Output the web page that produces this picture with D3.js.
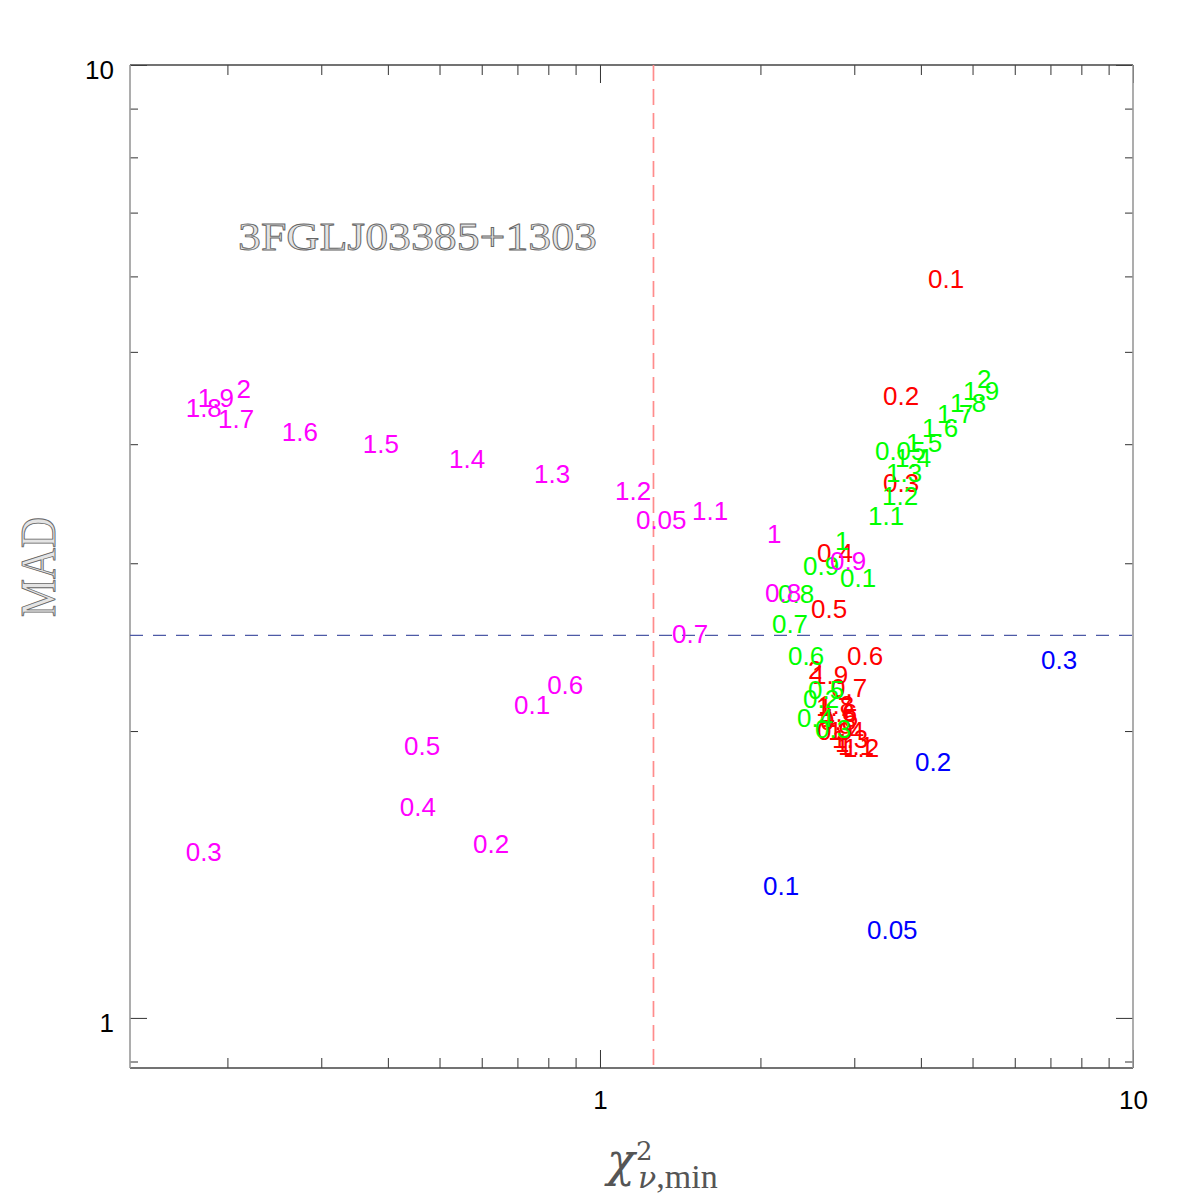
<!DOCTYPE html>
<html>
<head>
<meta charset="utf-8">
<script src="https://cdn.jsdelivr.net/npm/d3@7"></script>
<style>
  body { margin: 0; background: #fff; }
</style>
</head>
<body>
<div id="chart"></div>
<script>
// tick values
const xMajor = [1, 10];
const xMinor = [0.2, 0.3, 0.4, 0.5, 0.6, 0.7, 0.8, 0.9, 2, 3, 4, 5, 6, 7, 8, 9];
const yMajor = [1, 10];
const yMinor = [0.9, 2, 3, 4, 5, 6, 7, 8, 9];

// reference lines
const chiCut = 1.26;
const madCut = 2.52;

// magenta series
const labelsMagenta = ["0.05", "0.1", "0.2", "0.3", "0.4", "0.5", "0.6", "0.7", "0.8", "0.9", "1",
  "1.1", "1.2", "1.3", "1.4", "1.5", "1.6", "1.7", "1.8", "1.9", "2"];
const chiMagenta = [1.168, 0.690, 0.578, 0.167, 0.421, 0.429, 0.796, 1.365, 2.040, 2.701, 2.058,
  1.488, 1.067, 0.752, 0.521, 0.359, 0.253, 0.192, 0.167, 0.176, 0.208];
const madMagenta = [3.260, 2.084, 1.490, 1.461, 1.629, 1.888, 2.188, 2.475, 2.733, 2.952, 3.151,
  3.331, 3.496, 3.642, 3.777, 3.916, 4.031, 4.159, 4.271, 4.376, 4.473];

// green series
const labelsGreen = ["0.05", "0.1", "0.2", "0.3", "0.4", "0.5", "0.6", "0.7", "0.8", "0.9", "1",
  "1.1", "1.2", "1.3", "1.4", "1.5", "1.6", "1.7", "1.8", "1.9", "2"];
const chiGreen = [3.280, 2.820, 2.404, 2.532, 2.342, 2.456, 2.253, 2.102, 2.158, 2.404, 2.760,
  3.183, 3.381, 3.440, 3.577, 3.751, 4.019, 4.289, 4.536, 4.798, 5.096];
const madGreen = [3.850, 2.834, 2.115, 1.967, 2.020, 2.161, 2.346, 2.535, 2.726, 2.916, 3.098,
  3.291, 3.454, 3.651, 3.786, 3.925, 4.071, 4.212, 4.324, 4.451, 4.582];

// red series
const labelsRed = ["0.1", "0.2", "0.3", "0.4", "0.5", "0.6", "0.7", "0.8", "0.9", "1",
  "1.1", "1.2", "1.3", "1.4", "1.5", "1.6", "1.7", "1.8", "1.9", "2"];
const chiRed = [4.124, 3.396, 3.396, 2.553, 2.489, 2.907, 2.713, 2.587, 2.553, 2.760,
  2.796, 2.857, 2.725, 2.678, 2.609, 2.598, 2.543, 2.565, 2.499, 2.456];
const madRed = [5.834, 4.397, 3.564, 3.009, 2.629, 2.346, 2.172, 2.005, 1.957, 1.901,
  1.888, 1.879, 1.920, 1.957, 2.020, 2.045, 2.074, 2.084, 2.241, 2.268];

// blue series
const labelsBlue = ["0.05", "0.1", "0.2", "0.3"];
const chiBlue = [3.169, 2.022, 3.899, 6.722];
const madBlue = [1.210, 1.346, 1.816, 2.324];

(function () {
  const width = 1196, height = 1196;
  const x0 = 130, x1 = 1133, y0 = 65, y1 = 1068;

  const svg = d3.select("#chart").append("svg")
    .attr("width", width)
    .attr("height", height);

  const x = d3.scaleLog().domain([0.1313, 10]).range([x0, x1]);
  const y = d3.scaleLog().domain([0.886, 10]).range([y1, y0]);

  function cleanAxis(g) {
    g.select(".domain").remove();
    g.selectAll(".tick line").attr("stroke", "#333").attr("stroke-width", 1);
    g.selectAll("text")
      .attr("font-family", "'Liberation Sans', Arial, sans-serif")
      .attr("font-size", 26)
      .attr("fill", "#000");
  }

  // bottom
  svg.append("g").attr("transform", `translate(0,${y1})`)
    .call(d3.axisBottom(x).tickValues(xMajor).tickSize(-18).tickPadding(23).tickFormat(d3.format("d")))
    .call(cleanAxis);
  svg.append("g").attr("transform", `translate(0,${y1})`)
    .call(d3.axisBottom(x).tickValues(xMinor).tickSize(-10).tickFormat(""))
    .call(cleanAxis);
  // top
  svg.append("g").attr("transform", `translate(0,${y0})`)
    .call(d3.axisTop(x).tickValues(xMajor).tickSize(-18).tickFormat(""))
    .call(cleanAxis);
  svg.append("g").attr("transform", `translate(0,${y0})`)
    .call(d3.axisTop(x).tickValues(xMinor).tickSize(-10).tickFormat(""))
    .call(cleanAxis);
  // left
  svg.append("g").attr("transform", `translate(${x0},0)`)
    .call(d3.axisLeft(y).tickValues(yMajor).tickSize(-17).tickPadding(16).tickFormat(d3.format("d")))
    .call(cleanAxis)
    .call(g => g.selectAll("text").attr("dy", "0.52em"));
  svg.append("g").attr("transform", `translate(${x0},0)`)
    .call(d3.axisLeft(y).tickValues(yMinor).tickSize(-8).tickFormat(""))
    .call(cleanAxis);
  // right
  svg.append("g").attr("transform", `translate(${x1},0)`)
    .call(d3.axisRight(y).tickValues(yMajor).tickSize(-17).tickFormat(""))
    .call(cleanAxis);
  svg.append("g").attr("transform", `translate(${x1},0)`)
    .call(d3.axisRight(y).tickValues(yMinor).tickSize(-8).tickFormat(""))
    .call(cleanAxis);

  // frame
  svg.append("line").attr("x1", x0).attr("x2", x1).attr("y1", y0).attr("y2", y0)
    .attr("stroke", "#444").attr("stroke-width", 1.3);
  svg.append("line").attr("x1", x0).attr("x2", x1).attr("y1", y1).attr("y2", y1)
    .attr("stroke", "#444").attr("stroke-width", 1.3);
  svg.append("line").attr("x1", x0).attr("x2", x0).attr("y1", y0).attr("y2", y1)
    .attr("stroke", "#999").attr("stroke-width", 1.6);
  svg.append("line").attr("x1", x1).attr("x2", x1).attr("y1", y0).attr("y2", y1)
    .attr("stroke", "#999").attr("stroke-width", 1.6);

  // dashed cuts
  svg.append("line")
    .attr("x1", x(chiCut)).attr("x2", x(chiCut))
    .attr("y1", y0).attr("y2", y1)
    .attr("stroke", "#ff8c8c").attr("stroke-width", 1.7)
    .attr("stroke-dasharray", "16,8");
  svg.append("line")
    .attr("x1", x0).attr("x2", x1)
    .attr("y1", y(madCut)).attr("y2", y(madCut))
    .attr("stroke", "#4d5aa6").attr("stroke-width", 1.3)
    .attr("stroke-dasharray", "13,10");

  // labels as points
  function drawSeries(labels, xs, ys, color) {
    svg.append("g")
      .selectAll("text")
      .data(labels)
      .enter()
      .append("text")
      .attr("x", (d, i) => x(xs[i]))
      .attr("y", (d, i) => y(ys[i]))
      .attr("font-family", "'Liberation Sans', Arial, sans-serif")
      .attr("font-size", 26)
      .attr("fill", color)
      .text(d => d);
  }
  drawSeries(labelsBlue, chiBlue, madBlue, "#0000ff");
  drawSeries(labelsRed, chiRed, madRed, "#ff0000");
  drawSeries(labelsGreen, chiGreen, madGreen, "#00ff00");
  drawSeries(labelsMagenta, chiMagenta, madMagenta, "#ff00ff");

  // title
  svg.append("text")
    .attr("x", 238).attr("y", 250)
    .attr("font-family", "'Liberation Serif', 'DejaVu Serif', serif")
    .attr("font-size", 41)
    .attr("textLength", 359)
    .attr("lengthAdjust", "spacingAndGlyphs")
    .attr("fill", "#e4e4e4")
    .attr("stroke", "#666")
    .attr("stroke-width", 0.9)
    .text("3FGLJ03385+1303");

  // y label
  svg.append("text")
    .attr("transform", "translate(55,567) rotate(-90)")
    .attr("text-anchor", "middle")
    .attr("font-family", "'Liberation Serif', 'DejaVu Serif', serif")
    .attr("font-size", 50)
    .attr("textLength", 100)
    .attr("lengthAdjust", "spacingAndGlyphs")
    .attr("fill", "#e4e4e4")
    .attr("stroke", "#666")
    .attr("stroke-width", 0.9)
    .text("MAD");

  // x label
  const xl = svg.append("text")
    .attr("font-family", "'DejaVu Serif', 'Liberation Serif', serif")
    .attr("fill", "#555");
  xl.append("tspan").attr("x", 607).attr("y", 1176)
    .attr("font-size", 46).attr("font-style", "italic").text("χ");
  xl.append("tspan").attr("x", 636).attr("y", 1160)
    .attr("font-size", 26).text("2");
  xl.append("tspan").attr("x", 638).attr("y", 1188)
    .attr("font-size", 30).attr("font-style", "italic").text("ν");
  xl.append("tspan")
    .attr("font-family", "'Liberation Serif', serif")
    .attr("font-size", 34).text(",min");
})();
</script>
</body>
</html>
